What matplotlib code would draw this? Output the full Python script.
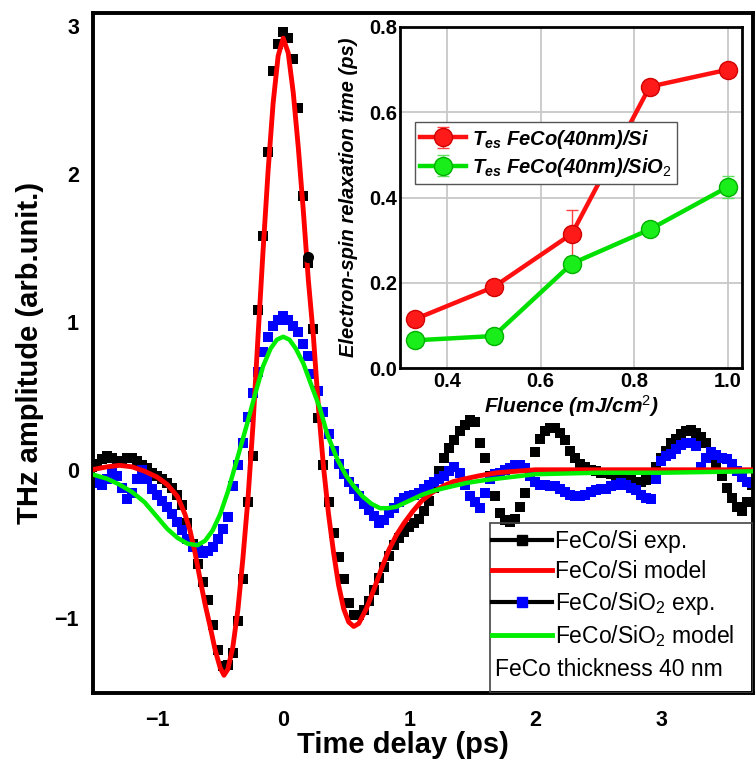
import numpy as np
import matplotlib
matplotlib.use('Agg')
import matplotlib.pyplot as plt
from matplotlib.lines import Line2D
from matplotlib.patches import Rectangle

plt.rcParams['font.family'] = ['Liberation Sans', 'DejaVu Sans']
plt.rcParams['mathtext.fontset'] = 'custom'
plt.rcParams['mathtext.rm'] = 'Liberation Sans'
plt.rcParams['mathtext.it'] = 'Liberation Sans:italic:bold'
plt.rcParams['mathtext.bf'] = 'Liberation Sans:bold'

# THz transients, sampled every 0.04 ps
t_exp = np.round(np.arange(-1.52, 3.721, 0.04), 2)
si_exp = [
    0.02, 0.04, 0.07, 0.09, 0.08, 0.05, 0.06, 0.08, 0.08, 0.06,
    0.03, 0.01, -0.02, -0.04, -0.06, -0.09, -0.12, -0.17, -0.24, -0.36,
    -0.50, -0.64, -0.76, -0.88, -1.05, -1.22, -1.33, -1.32, -1.24, -1.02,
    -0.74, -0.22, 0.09, 1.08, 1.58, 2.15, 2.70, 2.88, 2.96, 2.92,
    2.78, 2.45, 1.85, 1.40, 0.95, 0.35, 0.03, -0.22, -0.43, -0.59,
    -0.74, -0.90, -0.98, -0.98, -0.95, -0.89, -0.81, -0.73, -0.66, -0.58,
    -0.51, -0.46, -0.42, -0.39, -0.36, -0.33, -0.28, -0.21, -0.12, -0.01,
    0.08, 0.15, 0.20, 0.26, 0.30, 0.34, 0.32, 0.18, 0.08, -0.04,
    -0.18, -0.29, -0.34, -0.35, -0.33, -0.25, -0.16, -0.02, 0.12, 0.21,
    0.26, 0.28, 0.28, 0.25, 0.20, 0.13, 0.08, 0.04, 0.02, 0.00,
    -0.01, -0.02, -0.02, -0.03, -0.05, -0.06, -0.07, -0.07, -0.08, -0.08,
    -0.07, -0.04, 0.02, 0.08, 0.13, 0.18, 0.21, 0.24, 0.26, 0.27,
    0.25, 0.22, 0.18, 0.10, 0.03, -0.04, -0.12, -0.19, -0.25, -0.28,
    -0.22, -0.10]
sio2_exp = [
    -0.08, -0.09, -0.10, -0.06, 0.00, -0.04, -0.12, -0.20, -0.16, -0.06,
    0.00, -0.06, -0.13, -0.17, -0.21, -0.25, -0.30, -0.35, -0.41, -0.47,
    -0.52, -0.54, -0.56, -0.55, -0.52, -0.47, -0.40, -0.32, -0.11, 0.03,
    0.18, 0.36, 0.52, 0.66, 0.80, 0.90, 0.97, 1.01, 1.04, 1.01,
    0.97, 0.93, 0.85, 0.77, 0.65, 0.53, 0.39, 0.24, 0.13, 0.04,
    -0.03, -0.08, -0.13, -0.18, -0.23, -0.27, -0.31, -0.36, -0.34, -0.29,
    -0.26, -0.22, -0.19, -0.18, -0.17, -0.16, -0.13, -0.10, -0.08, -0.06,
    -0.04, -0.01, 0.02, -0.02, -0.10, -0.18, -0.22, -0.26, -0.16, -0.06,
    -0.03, -0.02, 0.00, 0.01, 0.03, 0.03, 0.01, -0.04, -0.08, -0.10,
    -0.10, -0.11, -0.11, -0.13, -0.15, -0.17, -0.18, -0.18, -0.17, -0.15,
    -0.14, -0.13, -0.13, -0.11, -0.10, -0.09, -0.10, -0.12, -0.14, -0.17,
    -0.19, -0.20, -0.06, 0.06, 0.09, 0.11, 0.14, 0.17, 0.18, 0.18,
    0.16, 0.02, 0.08, 0.12, 0.10, 0.08, 0.07, 0.04, -0.01, -0.05,
    -0.08, -0.09]

# model fits
t_si_mod = [-1.52, -1.40, -1.30, -1.20, -1.10, -1.00, -0.92, -0.84, -0.78, -0.74,
            -0.70, -0.66, -0.62, -0.58, -0.54, -0.50, -0.47, -0.44, -0.40, -0.36,
            -0.32, -0.28, -0.24, -0.20, -0.16, -0.12, -0.08, -0.04, 0.00, 0.04,
            0.08, 0.12, 0.16, 0.20, 0.24, 0.28, 0.32, 0.36, 0.40, 0.44,
            0.48, 0.52, 0.56, 0.60, 0.66, 0.72, 0.78, 0.84, 0.90, 0.96,
            1.03, 1.10, 1.19, 1.27, 1.35, 1.45, 1.56, 1.70, 1.85, 2.00,
            2.50, 3.00, 3.74]
si_mod = [0.00, 0.02, 0.03, 0.02, -0.01, -0.05, -0.10, -0.18, -0.30, -0.41,
          -0.56, -0.74, -0.91, -1.06, -1.22, -1.34, -1.39, -1.35, -1.20, -0.95,
          -0.60, -0.20, 0.30, 0.90, 1.48, 2.02, 2.48, 2.80, 2.92, 2.82,
          2.55, 2.18, 1.75, 1.28, 0.90, 0.42, 0.02, -0.30, -0.56, -0.78,
          -0.94, -1.03, -1.06, -1.04, -0.94, -0.81, -0.67, -0.54, -0.44, -0.36,
          -0.28, -0.21, -0.15, -0.11, -0.08, -0.06, -0.04, -0.02, -0.01, 0.00,
          0.00, 0.00, 0.00]
t_sio2_mod = [-1.52, -1.40, -1.30, -1.20, -1.10, -1.00, -0.92, -0.84, -0.76, -0.68,
              -0.62, -0.56, -0.50, -0.44, -0.40, -0.34, -0.29, -0.22, -0.16, -0.10,
              -0.05, 0.00, 0.05, 0.10, 0.16, 0.22, 0.29, 0.35, 0.43, 0.50,
              0.56, 0.63, 0.70, 0.77, 0.83, 0.90, 1.00, 1.10, 1.20, 1.30,
              1.45, 1.60, 1.80, 2.00, 2.50, 3.00, 3.74]
sio2_mod = [-0.03, -0.06, -0.10, -0.15, -0.22, -0.32, -0.40, -0.46, -0.50, -0.51,
            -0.48, -0.41, -0.30, -0.15, -0.03, 0.15, 0.30, 0.52, 0.70, 0.82,
            0.88, 0.90, 0.88, 0.82, 0.72, 0.58, 0.42, 0.24, 0.07, -0.04,
            -0.11, -0.18, -0.23, -0.26, -0.26, -0.25, -0.21, -0.17, -0.14, -0.12,
            -0.09, -0.07, -0.05, -0.03, -0.02, -0.02, -0.01]

# marked point
mark_t = [0.20]
mark_y = [1.44]

# inset: relaxation time vs fluence
fluence = [0.333, 0.5, 0.667, 0.833, 1.0]
tau_si = [0.115, 0.19, 0.315, 0.66, 0.70]
tau_si_err = [0, 0, 0.055, 0, 0]
tau_sio2 = [0.065, 0.075, 0.245, 0.325, 0.425]
tau_sio2_err = [0, 0, 0, 0, 0.025]

fig = plt.figure(figsize=(7.56, 7.61), dpi=100)
ax = fig.add_axes([93 / 756, 68 / 761, 660 / 756, 680 / 761])

ax.plot(t_exp, si_exp, 's', color='black', ms=7, mew=0, zorder=2)
ax.plot(t_exp, sio2_exp, 's', color='#0000ff', ms=7, mew=0, zorder=2)
ax.plot(t_si_mod, si_mod, color='#ff0000', lw=3.5, zorder=3)
ax.plot(t_sio2_mod, sio2_mod, color='#00ee00', lw=3.2, zorder=3)
ax.plot(mark_t, mark_y, 'o', color='black', ms=7, zorder=4)

ax.set_xlim(-1.51, 3.73)
ax.set_ylim(-1.51, 3.09)
ax.set_xticks([-1, 0, 1, 2, 3])
ax.set_yticks([-1, 0, 1, 2, 3])
ax.tick_params(length=0, labelsize=15.5)
ax.tick_params(axis='x', pad=12)
ax.tick_params(axis='y', pad=10)
for lab in ax.get_xticklabels() + ax.get_yticklabels():
    lab.set_fontweight('bold')
for s in ax.spines.values():
    s.set_linewidth(2.8)

ax.set_xlabel('Time delay (ps)', fontsize=21, fontweight='bold')
ax.set_ylabel('THz amplitude (arb.unit.)', fontsize=21, fontweight='bold')
ax.xaxis.label.set_va('center')
ax.yaxis.label.set_va('center')
ax.xaxis.set_label_coords(0.47, -0.077)
ax.yaxis.set_label_coords(-0.095, 0.5)

handles = [
    Line2D([], [], color='black', lw=3, marker='s', ms=7, mfc='black', mec='black'),
    Line2D([], [], color='#ff0000', lw=3.5),
    Line2D([], [], color='black', lw=3, marker='s', ms=7, mfc='#0000ff', mec='#0000ff'),
    Line2D([], [], color='#00ee00', lw=3.5),
]
labels = ['FeCo/Si exp.', 'FeCo/Si model', 'FeCo/SiO$_2$ exp.', 'FeCo/SiO$_2$ model']
leg = ax.legend(handles, labels, loc='upper left', bbox_to_anchor=(0.6, 0.245),
                frameon=False, fontsize=16.5, handlelength=2.6, handletextpad=0.15,
                labelspacing=0.3, borderpad=0.15, borderaxespad=0, numpoints=1)
ax.add_patch(Rectangle((0.6015, 0), 0.3985, 0.25, transform=ax.transAxes,
                       fill=False, edgecolor='#444444', lw=1.2, zorder=5))
ax.text(0.609, 0.034, 'FeCo thickness 40 nm', transform=ax.transAxes,
        fontsize=16.5, va='center', ha='left')

# inset
ins = fig.add_axes([400 / 756, 393 / 761, 342 / 756, 341 / 761])
ins.set_facecolor('white')
ins.grid(True, color='#c8c8c8', lw=1.3)
ins.set_axisbelow(True)
ins.errorbar(fluence, tau_si, yerr=tau_si_err, color='#ff1010', lw=3.2,
             marker='o', ms=13, mfc='#ff1a1a', mec='#d00000', mew=1,
             ecolor='#ff4040', elinewidth=1, capsize=4, label=r'$T_{es}$ FeCo(40nm)/Si')
ins.errorbar(fluence, tau_sio2, yerr=tau_sio2_err, color='#00e000', lw=3.2,
             marker='o', ms=13, mfc='#1aee1a', mec='#00b000', mew=1,
             ecolor='#60e060', elinewidth=1, capsize=4, label=r'$T_{es}$ FeCo(40nm)/SiO$_\mathit{2}$')
ins.set_xlim(0.3, 1.03)
ins.set_ylim(0, 0.8)
ins.set_xticks([0.4, 0.6, 0.8, 1.0])
ins.set_yticks([0.0, 0.2, 0.4, 0.6, 0.8])
ins.tick_params(length=0, labelsize=14.5)
ins.tick_params(axis='x', pad=3)
ins.tick_params(axis='y', pad=2)
for lab in ins.get_xticklabels() + ins.get_yticklabels():
    lab.set_fontweight('bold')
for s in ins.spines.values():
    s.set_linewidth(2)
ins.set_xlabel(r'Fluence (mJ/cm$^\mathit{2}$)', fontsize=15, fontweight='bold', fontstyle='italic')
ins.set_ylabel('Electron-spin relaxation time (ps)', fontsize=14.5, fontweight='bold', fontstyle='italic')
ins.xaxis.label.set_va('center')
ins.yaxis.label.set_va('center')
ins.xaxis.set_label_coords(0.5, -0.112)
ins.yaxis.set_label_coords(-0.15, 0.5)
ileg = ins.legend(loc='upper left', bbox_to_anchor=(0.044, 0.72), borderaxespad=0,
                  fancybox=False, edgecolor='#555555', framealpha=1,
                  prop={'size': 14.5, 'weight': 'bold', 'style': 'italic'},
                  handlelength=2.3, handletextpad=0.3, labelspacing=0.25, borderpad=0.25)
ileg.get_frame().set_linewidth(1)

fig.savefig('out.png', dpi=100)
